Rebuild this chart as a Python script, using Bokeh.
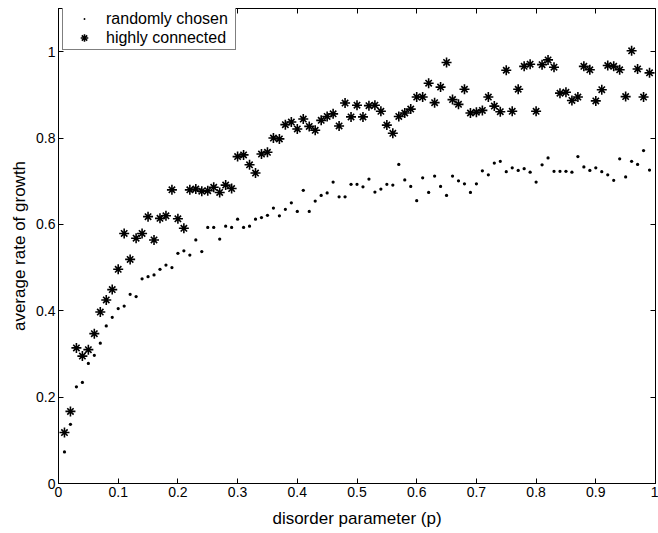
from bokeh.plotting import figure
from bokeh.models import (ColumnDataSource, Range1d, FixedTicker, CustomJSTickFormatter,
                          LinearAxis, Legend, LegendItem)
from bokeh.embed import file_html
from bokeh.resources import INLINE

# ---------------- data ----------------
disorder_p = [0.01, 0.02, 0.03, 0.04, 0.05, 0.06, 0.07, 0.08, 0.09, 0.10,
              0.11, 0.12, 0.13, 0.14, 0.15, 0.16, 0.17, 0.18, 0.19, 0.20,
              0.21, 0.22, 0.23, 0.24, 0.25, 0.26, 0.27, 0.28, 0.29, 0.30,
              0.31, 0.32, 0.33, 0.34, 0.35, 0.36, 0.37, 0.38, 0.39, 0.40,
              0.41, 0.42, 0.43, 0.44, 0.45, 0.46, 0.47, 0.48, 0.49, 0.50,
              0.51, 0.52, 0.53, 0.54, 0.55, 0.56, 0.57, 0.58, 0.59, 0.60,
              0.61, 0.62, 0.63, 0.64, 0.65, 0.66, 0.67, 0.68, 0.69, 0.70,
              0.71, 0.72, 0.73, 0.74, 0.75, 0.76, 0.77, 0.78, 0.79, 0.80,
              0.81, 0.82, 0.83, 0.84, 0.85, 0.86, 0.87, 0.88, 0.89, 0.90,
              0.91, 0.92, 0.93, 0.94, 0.95, 0.96, 0.97, 0.98, 0.99]

randomly_chosen = [0.073, 0.137, 0.224, 0.234, 0.278, 0.297, 0.325, 0.365, 0.385, 0.405,
                   0.411, 0.438, 0.433, 0.474, 0.479, 0.483, 0.496, 0.506, 0.500, 0.533,
                   0.539, 0.529, 0.564, 0.537, 0.593, 0.593, 0.566, 0.596, 0.593, 0.612,
                   0.593, 0.596, 0.612, 0.616, 0.621, 0.638, 0.620, 0.635, 0.650, 0.630,
                   0.679, 0.630, 0.654, 0.667, 0.673, 0.698, 0.664, 0.664, 0.693, 0.693,
                   0.687, 0.705, 0.675, 0.682, 0.693, 0.691, 0.739, 0.703, 0.688, 0.655,
                   0.708, 0.674, 0.712, 0.688, 0.667, 0.712, 0.701, 0.694, 0.674, 0.694,
                   0.724, 0.715, 0.742, 0.746, 0.722, 0.731, 0.725, 0.729, 0.721, 0.698,
                   0.738, 0.754, 0.723, 0.723, 0.723, 0.721, 0.757, 0.733, 0.725, 0.731,
                   0.722, 0.715, 0.702, 0.752, 0.710, 0.746, 0.739, 0.771, 0.726]

highly_connected = [0.118, 0.167, 0.314, 0.295, 0.310, 0.347, 0.397, 0.425, 0.449, 0.496,
                    0.579, 0.519, 0.568, 0.579, 0.618, 0.564, 0.614, 0.620, 0.680, 0.613,
                    0.591, 0.680, 0.682, 0.677, 0.678, 0.686, 0.674, 0.691, 0.683, 0.757,
                    0.761, 0.738, 0.719, 0.763, 0.767, 0.800, 0.798, 0.831, 0.837, 0.821,
                    0.844, 0.827, 0.818, 0.841, 0.850, 0.856, 0.828, 0.881, 0.849, 0.876,
                    0.849, 0.875, 0.876, 0.862, 0.830, 0.811, 0.850, 0.858, 0.867, 0.895,
                    0.895, 0.927, 0.882, 0.918, 0.975, 0.889, 0.878, 0.913, 0.858, 0.860,
                    0.864, 0.895, 0.874, 0.861, 0.957, 0.862, 0.913, 0.966, 0.971, 0.862,
                    0.970, 0.981, 0.964, 0.904, 0.906, 0.887, 0.895, 0.966, 0.958, 0.886,
                    0.912, 0.968, 0.966, 0.958, 0.896, 1.002, 0.960, 0.895, 0.951]

x_ticks = [0, 0.1, 0.2, 0.3, 0.4, 0.5, 0.6, 0.7, 0.8, 0.9, 1]
y_ticks = [0, 0.2, 0.4, 0.6, 0.8, 1]

series_labels = ["randomly chosen", "highly connected"]
x_title = "disorder parameter (p)"
y_title = "average rate of growth"

FONT = "Liberation Sans"

src = ColumnDataSource(dict(p=disorder_p, rnd=randomly_chosen, hc=highly_connected))

p = figure(width=658, height=533, output_backend="svg", toolbar_location=None,
           x_range=Range1d(0, 1), y_range=Range1d(0, 1.1),
           min_border_left=58, min_border_right=3, min_border_top=8, min_border_bottom=50,
           background_fill_color="white", border_fill_color="white")
p.xgrid.visible = False
p.ygrid.visible = False
p.outline_line_color = "black"
p.outline_line_width = 1

fmt = CustomJSTickFormatter(code="var s = tick.toFixed(1); return s.replace(/\\.0$/, '');")
blank = CustomJSTickFormatter(code="return '';")

def style_axis(ax, labels=True):
    ax.axis_line_color = "black"
    ax.major_tick_line_color = "black"
    ax.major_tick_in = 5
    ax.major_tick_out = 0
    ax.minor_tick_line_color = None
    ax.major_label_text_font = FONT
    ax.major_label_text_font_size = "14px"
    ax.major_label_text_color = "black"
    ax.axis_label_text_font = FONT
    ax.axis_label_text_font_size = "17px"
    ax.axis_label_text_font_style = "normal"
    ax.axis_label_text_color = "black"
    if not labels:
        ax.major_label_standoff = 0

p.xaxis.ticker = FixedTicker(ticks=x_ticks)
p.yaxis.ticker = FixedTicker(ticks=y_ticks)
p.xaxis.formatter = fmt
p.yaxis.formatter = fmt
p.xaxis.axis_label = x_title
p.yaxis.axis_label = y_title
style_axis(p.xaxis[0])
style_axis(p.yaxis[0])
p.xaxis.major_label_standoff = 3
p.yaxis.major_label_standoff = 3
p.xaxis.axis_label_standoff = 9
p.yaxis.axis_label_standoff = 4

right_ax = LinearAxis(ticker=FixedTicker(ticks=y_ticks), formatter=blank)
top_ax = LinearAxis(ticker=FixedTicker(ticks=x_ticks), formatter=blank)
style_axis(right_ax, labels=False)
style_axis(top_ax, labels=False)
p.add_layout(right_ax, "right")
p.add_layout(top_ax, "above")

# randomly chosen: small dots
r_dot = p.scatter("p", "rnd", source=src, marker="dot", size=13, line_color="black")

# highly connected: asterisk-like stars
r_s1 = p.scatter("p", "hc", source=src, marker="cross", size=10,
                 line_color="black", line_width=1.6)
r_s2 = p.scatter("p", "hc", source=src, marker="x", size=9,
                 line_color="black", line_width=1.6)
r_s3 = p.scatter("p", "hc", source=src, marker="dot", size=16, line_color="black")

legend = Legend(items=[LegendItem(label=series_labels[0], renderers=[r_dot]),
                       LegendItem(label=series_labels[1], renderers=[r_s1, r_s2, r_s3])],
                location=(4, 433))
legend.margin = 0
legend.padding = 2
legend.spacing = 0
legend.glyph_width = 38
legend.glyph_height = 19
legend.label_standoff = 3
legend.label_width = 127
legend.label_height = 19
legend.label_text_font = FONT
legend.label_text_font_size = "16px"
legend.label_text_color = "black"
legend.border_line_color = "black"
legend.border_line_width = 1
legend.background_fill_color = "white"
legend.background_fill_alpha = 1
p.add_layout(legend, "center")

open("out.html", "w").write(file_html(p, INLINE))
